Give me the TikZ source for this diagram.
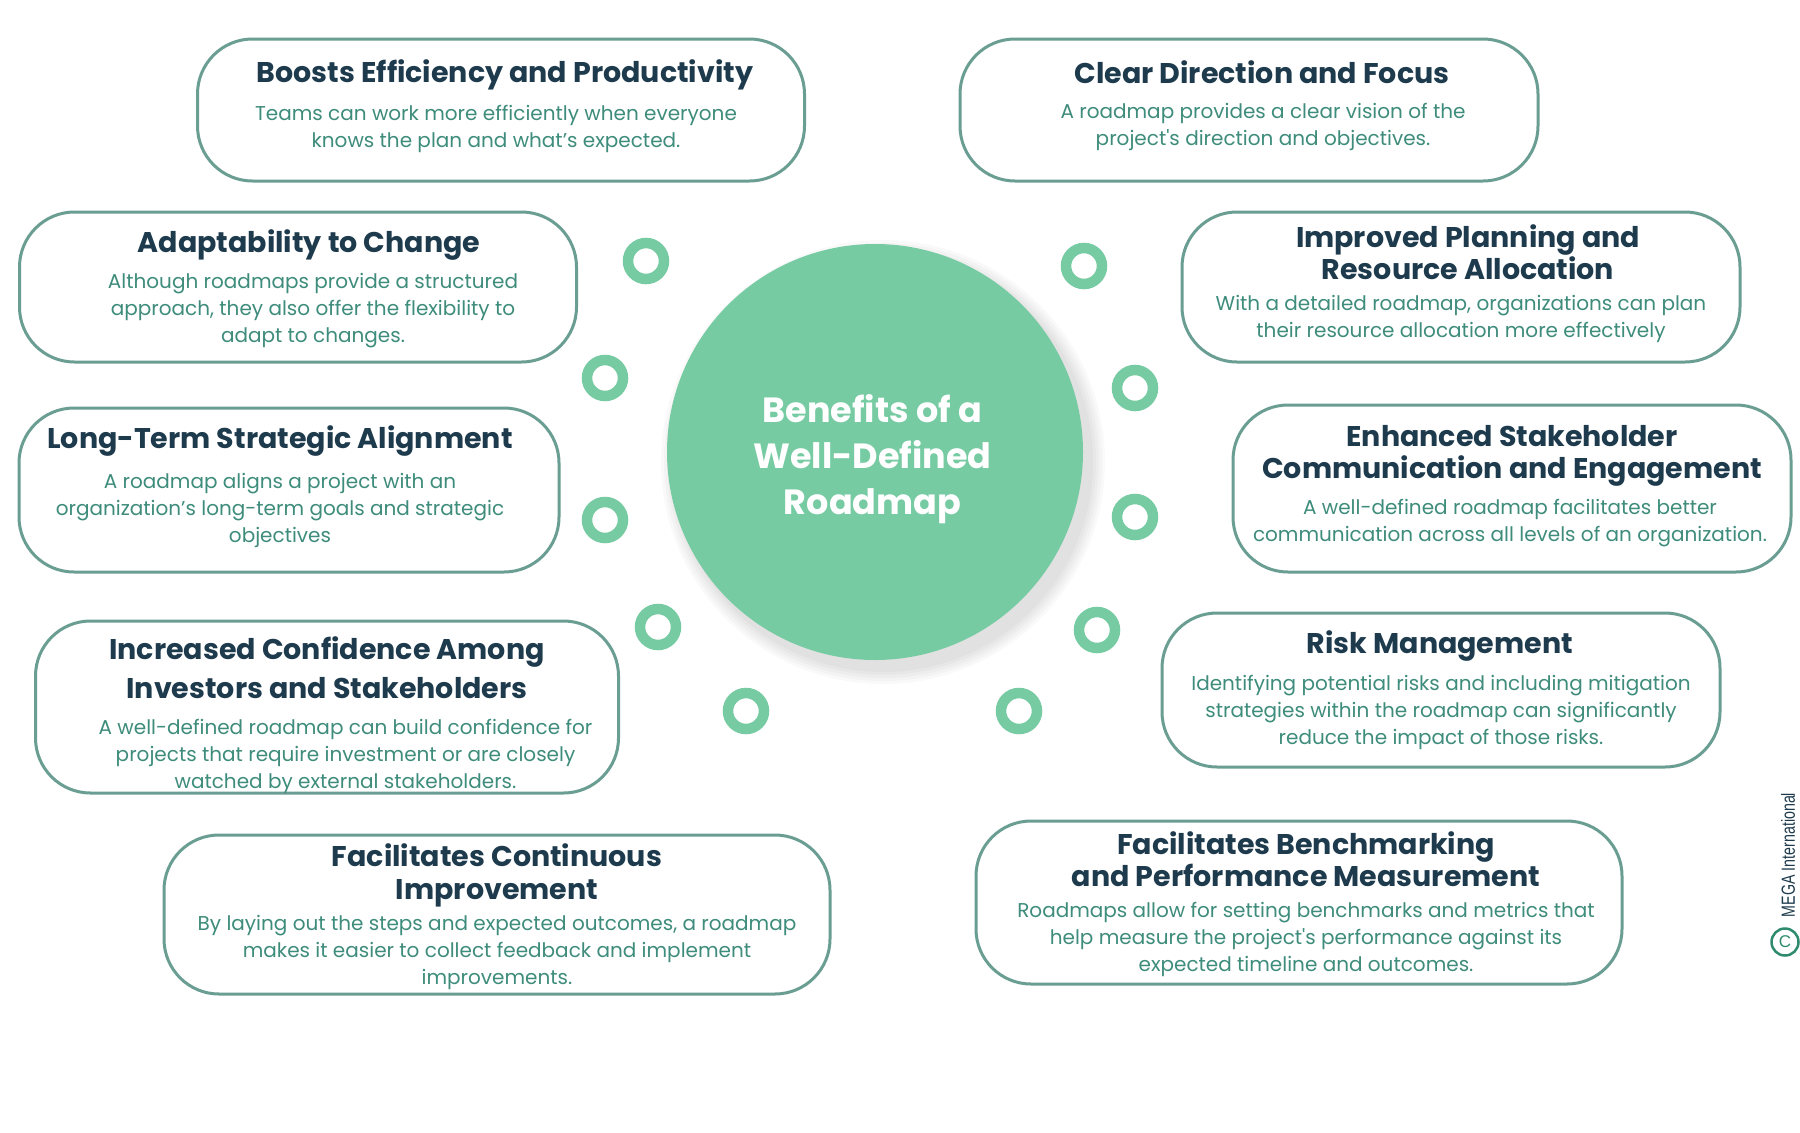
\documentclass[tikz,border=0pt]{standalone}
\usepackage{fontspec}
\setmainfont{Poppins}
\newfontfamily\straightq{Poppins}[Ligatures=TeXOff]
\newfontfamily\copyfont{Liberation Sans}
\newcommand{\sq}{{\straightq'}}
\definecolor{ttlc}{HTML}{1E3B4D}
\definecolor{bodyc}{HTML}{3E8C7B}
\definecolor{edgec}{HTML}{6B9E92}
\definecolor{greenc}{HTML}{77CBA3}
\definecolor{copyc}{HTML}{2E8B6E}
\tikzset{
  card/.style={draw=edgec, line width=3pt, rounded corners=55pt, fill=white, inner sep=0pt},
  ttl/.style={text=ttlc, font=\bfseries\fontsize{28.5}{30}\selectfont, align=center, inner sep=0pt},
  bodytext/.style={text=bodyc, font=\fontsize{20}{27}\selectfont, align=center, inner sep=0pt},
  ring/.style={draw=greenc, line width=10.5pt, circle, minimum size=36pt, inner sep=0pt},
}
\begin{document}
\begin{tikzpicture}[x=1pt,y=-1pt]
\useasboundingbox (0,0) rectangle (1800,1133);
\fill[white] (0,0) rectangle (1800,1133);

% central circle with soft shadow
\foreach \k in {14,11,8,5,2}{
  \fill[black, opacity=0.025] (883,462) circle (208+\k);
}
\node[circle, fill=greenc, minimum size=416pt, inner sep=0pt] (hub) at (875,452) {};
\node[text=white, font=\bfseries\fontsize{35}{46}\selectfont, align=center, inner sep=0pt] (hubtxt) at (872.5,459.5)
  {Benefits of a\\Well-Defined\\Roadmap};

% rings
\node[ring] (r1) at (646,261) {};
\node[ring] (r2) at (605,378) {};
\node[ring] (r3) at (605,520) {};
\node[ring] (r4) at (658,627) {};
\node[ring] (r5) at (746,711) {};
\node[ring] (r6) at (1084,266) {};
\node[ring] (r7) at (1135,388) {};
\node[ring] (r8) at (1135,517) {};
\node[ring] (r9) at (1097,630) {};
\node[ring] (r10) at (1019,711) {};

% cards
\node[card, minimum width=607pt, minimum height=142pt] (b1) at (501,110) {};
\node[ttl] (t1) at (505,74.5) {Boosts Efficiency and Productivity};
\node[bodytext] (d1) at (496,129) {Teams can work more efficiently when everyone\\knows the plan and what’s expected.};

\node[card, minimum width=578pt, minimum height=142pt] (b2) at (1249,110) {};
\node[ttl] (t2) at (1262,72.5) {Clear Direction and Focus};
\node[bodytext] (d2) at (1263,126.5) {A roadmap provides a clear vision of the\\project\sq s direction and objectives.};

\node[card, minimum width=557pt, minimum height=150pt] (b3) at (298,287) {};
\node[ttl] (t3) at (309,244.5) {Adaptability to Change};
\node[bodytext] (d3) at (313,310.5) {Although roadmaps provide a structured\\approach, they also offer the flexibility to\\adapt to changes.};

\node[card, minimum width=558pt, minimum height=150pt] (b4) at (1461,287) {};
\node[ttl, font=\bfseries\fontsize{28.5}{28}\selectfont] (t4) at (1468,252) {Improved Planning and\\Resource Allocation};
\node[bodytext] (d4) at (1461,318.5) {With a detailed roadmap, organizations can plan\\their resource allocation more effectively};

\node[card, minimum width=540pt, minimum height=164pt] (b5) at (289,490) {};
\node[ttl] (t5) at (280,441) {Long-Term Strategic Alignment};
\node[bodytext] (d5) at (280,510.5) {A roadmap aligns a project with an\\organization’s long-term goals and strategic\\objectives};

\node[card, minimum width=558pt, minimum height=167pt] (b6) at (1512,488.5) {};
\node[ttl, font=\bfseries\fontsize{28.5}{32}\selectfont] (t6) at (1512,455.5) {Enhanced Stakeholder\\Communication and Engagement};
\node[bodytext] (d6) at (1510,523.5) {A well-defined roadmap facilitates better\\communication across all levels of an organization.};

\node[card, minimum width=583pt, minimum height=172pt] (b7) at (327,707) {};
\node[ttl, font=\bfseries\fontsize{28.5}{39}\selectfont] (t7) at (327,668) {Increased Confidence Among\\Investors and Stakeholders};
\node[bodytext] (d7) at (345.5,756.5) {A well-defined roadmap can build confidence for\\projects that require investment or are closely\\watched by external stakeholders.};

\node[card, minimum width=558pt, minimum height=154pt] (b8) at (1441,690) {};
\node[ttl] (t8) at (1440,645.5) {Risk Management};
\node[bodytext] (d8) at (1441,712.5) {Identifying potential risks and including mitigation\\strategies within the roadmap can significantly\\reduce the impact of those risks.};

\node[card, minimum width=666pt, minimum height=159pt] (b9) at (497,914.5) {};
\node[ttl, font=\bfseries\fontsize{28.5}{33}\selectfont] (t9) at (497,875.5) {Facilitates Continuous\\Improvement};
\node[bodytext] (d9) at (497,952.5) {By laying out the steps and expected outcomes, a roadmap\\makes it easier to collect feedback and implement\\improvements.};

\node[card, minimum width=646pt, minimum height=163pt] (b10) at (1299,902.5) {};
\node[ttl, font=\bfseries\fontsize{28.5}{32}\selectfont] (t10) at (1306,859) {Facilitates Benchmarking\\and Performance Measurement};
\node[bodytext] (d10) at (1306,939.5) {Roadmaps allow for setting benchmarks and metrics that\\help measure the project\sq s performance against its\\expected timeline and outcomes.};

% copyright mark
\node[circle, draw=copyc, line width=2.5pt, minimum size=27pt, inner sep=0pt, text=copyc,
      font=\copyfont\fontsize{17}{17}\selectfont] (copy) at (1785,942) {C};
\node[rotate=90, text=ttlc, inner sep=0pt, font=\copyfont\fontsize{19}{19}\selectfont] (mega) at (1788,855)
  {\scalebox{0.75}[1]{MEGA International}};
\end{tikzpicture}
\end{document}
